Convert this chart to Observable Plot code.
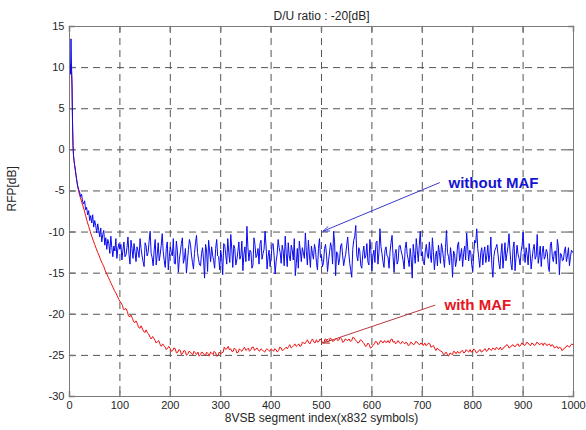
<!DOCTYPE html>
<html>
<head>
<meta charset="utf-8">
<script src="https://cdn.jsdelivr.net/npm/d3@7"></script>
<script src="https://cdn.jsdelivr.net/npm/@observablehq/plot@0.6"></script>
<style>
  html, body { margin: 0; padding: 0; background: #fff; }
</style>
</head>
<body>
<div id="chart"></div>
<script>
// ---- Text ----
const titleText = "D/U ratio : -20[dB]";
const xLabelText = "8VSB segment index(x832 symbols)";
const yLabelText = "RFP[dB]";

// ---- Ticks ----
const xTicks = [0, 100, 200, 300, 400, 500, 600, 700, 800, 900, 1000];
const yTicks = [-30, -25, -20, -15, -10, -5, 0, 5, 10, 15];
const xGrid = [100, 200, 300, 400, 500, 600, 700, 800, 900];
const yGrid = [-25, -20, -15, -10, -5, 0, 5, 10];

// ---- "without MAF" (blue) ----
const blueEarlyX = [0,1,2,3,4,5,6,7,8,9,10,11,12,13,14,15,16,18,20,22,24,26,28,30,32,34,36,38,40,42,44,46,48,50,52,54,56,58,60,62,64,66,68,70,72,74,76,78,80,82,84,86,88,90,92,94,96,98];
const blueEarlyY = [9.0,10.5,9.2,13.5,10.0,8.0,3.5,0.5,-0.7,-1.3,-1.8,-2.2,-2.6,-3.1,-3.5,-3.9,-4.3,
  -4.8,-5.1,-5.7,-5.4,-6.3,-6.6,-6.2,-7.3,-7.0,-7.9,-7.4,-8.6,-8.0,-8.9,-7.9,-9.4,-8.6,-9.2,-10.1,-9.0,-9.8,-10.6,-9.5,-11.2,-10.3,-9.8,-11.6,-10.7,-12.1,-10.9,-11.4,-12.6,-10.5,-11.9,-13.0,-11.7,-12.3,-10.8,-13.2,-12.0,-11.4];
// samples at 100, 104, 108, ... 1000
const blueNoiseStart = 100, blueNoiseStep = 4;
const blueNoiseY = [
  -12.1,-13.4,-11.2,-12.8,-10.6,-13.9,-12.0,-11.4,-13.6,-12.3,
  -10.8,-12.9,-14.2,-11.7,-12.5,-9.9,-13.1,-12.2,-14.0,-11.3,
  -12.7,-10.2,-13.5,-12.0,-14.6,-11.8,-12.9,-13.8,-11.1,-14.9,
  -12.4,-10.7,-13.2,-15.0,-12.1,-11.5,-13.7,-12.6,-10.4,-13.3,
  -14.1,-11.9,-15.6,-12.3,-11.0,-13.6,-12.8,-14.4,-10.9,-13.0,
  -12.2,-15.2,-11.6,-13.9,-12.5,-10.3,-14.3,-12.0,-13.4,-11.2,
  -12.9,-14.7,-11.8,-9.3,-13.5,-12.4,-14.0,-11.5,-12.8,-13.9,
  -11.0,-12.6,-9.9,-14.5,-12.2,-13.1,-11.4,-15.1,-12.7,-11.9,
  -13.8,-12.3,-10.5,-14.2,-12.9,-11.6,-13.4,-15.3,-12.0,-11.1,
  -13.6,-12.5,-10.1,-14.0,-12.8,-11.7,-13.3,-12.1,-14.6,-10.8,
  -12.9,-13.7,-11.5,-14.8,-12.4,-11.9,-9.9,-15.3,-12.6,-13.2,
  -11.4,-14.1,-12.7,-10.6,-13.8,-15.5,-11.0,-9.2,-13.5,-12.3,
  -14.4,-11.7,-12.9,-13.6,-10.9,-14.7,-12.2,-11.3,-13.9,-9.6,
  -12.6,-14.3,-11.8,-13.0,-12.4,-10.4,-14.9,-12.1,-13.5,-11.6,
  -12.8,-14.5,-11.2,-13.3,-12.0,-15.6,-12.7,-10.8,-13.6,-9.9,
  -12.4,-14.0,-11.5,-13.2,-12.9,-10.7,-14.6,-12.3,-11.6,-13.8,
  -12.1,-14.3,-9.8,-13.0,-11.9,-15.5,-12.6,-13.4,-11.2,-12.8,
  -14.2,-11.7,-10.1,-13.5,-12.4,-14.8,-11.0,-9.6,-13.1,-12.5,
  -14.0,-11.8,-12.9,-13.6,-10.6,-15.5,-12.2,-11.5,-13.8,-12.7,
  -14.4,-11.3,-12.6,-10.2,-13.9,-12.0,-14.7,-11.6,-13.2,-12.4,
  -10.0,-13.7,-12.8,-11.4,-14.5,-12.1,-13.3,-10.3,-12.9,-14.2,
  -11.7,-13.0,-12.5,-14.8,-11.2,-13.6,-12.3,-10.9,-15.2,-12.7,
  -13.4,-11.8,-12.9,-14.1,-12.2,-12.6
];
// samples at 102, 106, 110, ... 998
const blueMidStart = 102, blueMidStep = 4;
const blueMidY = [
  -11.5,-12.2,-13.0,-11.9,-12.7,-11.0,-13.2,-12.4,-11.8,-13.1,
  -12.0,-13.6,-11.3,-12.9,-11.1,-12.6,-14.1,-10.9,-12.8,-13.5,
  -11.6,-12.4,-14.3,-11.2,-13.0,-12.5,-10.8,-13.9,-12.2,-13.3,
  -11.4,-13.8,-12.0,-13.6,-10.9,-12.8,-14.5,-11.3,-12.5,-14.0,
  -12.6,-13.4,-11.5,-14.8,-12.3,-11.8,-13.5,-12.0,-12.9,-14.6,
  -13.1,-11.4,-12.8,-10.8,-13.7,-12.1,-11.6,-14.0,-12.4,-13.3,
  -11.1,-12.7,-13.6,-11.9,-12.2,-14.4,-10.7,-13.1,-12.0,-11.4,
  -13.3,-12.1,-11.7,-13.0,-14.2,-11.5,-12.9,-13.6,-10.9,-12.5,
  -11.6,-14.1,-12.6,-11.3,-13.5,-12.2,-10.8,-13.8,-14.4,-12.3,
  -11.9,-13.2,-12.4,-11.0,-14.3,-12.6,-11.5,-13.7,-12.0,-13.1,
  -14.2,-12.0,-12.8,-13.5,-11.3,-13.9,-11.2,-12.4,-14.0,-11.7,
  -12.9,-13.3,-11.6,-12.4,-14.6,-12.1,-10.5,-12.8,-11.9,-14.1,
  -12.6,-13.2,-11.4,-14.0,-12.3,-12.9,-13.7,-11.1,-12.5,-11.8,
  -13.6,-12.2,-12.9,-14.4,-11.3,-13.0,-12.6,-13.9,-11.7,-12.3,
  -13.5,-12.0,-12.7,-14.2,-13.3,-11.5,-13.8,-12.2,-11.6,-12.9,
  -13.6,-12.3,-12.8,-11.2,-13.7,-12.4,-13.0,-14.1,-12.5,-11.4,
  -13.2,-11.9,-12.5,-14.0,-13.1,-12.3,-14.2,-11.6,-13.5,-12.0,
  -12.6,-13.4,-11.8,-12.2,-13.9,-12.7,-11.3,-12.0,-14.3,-11.9,
  -12.5,-13.7,-11.6,-12.8,-14.1,-13.0,-11.9,-12.6,-14.5,-11.4,
  -12.9,-13.5,-11.8,-12.3,-14.6,-11.2,-13.1,-12.7,-14.0,-11.6,
  -12.3,-11.9,-14.0,-12.6,-13.2,-11.5,-12.9,-13.8,-11.7,-12.5,
  -13.3,-12.1,-14.2,-11.6,-13.0,-12.4,-13.9,-11.8,-12.6,-13.5,
  -12.3,-13.6,-11.9,-13.0,-12.4
];

// ---- "with MAF" (red) ----
const redEarlyX = [0,1,2,3,4,5,6,7,8,10,12,14,16,18,20,23,26,29,32,35,38,41,44,47,50,53,56,59,62,65,68,71,74,77,80,83,86,89,92,95,98,101];
const redEarlyY = [9.0,10.2,9.6,10.4,9.8,7.5,3.0,0.5,-0.8,-1.8,-2.7,-3.6,-4.4,-5.0,-5.5,-6.1,-6.7,-7.3,-8.0,-8.7,-9.3,-9.9,-10.5,-11.0,-11.5,-12.0,-12.5,-12.9,-13.4,-13.8,-14.2,-14.7,-15.1,-15.5,-15.9,-16.3,-16.7,-17.1,-17.4,-17.8,-18.2,-18.5];
// samples at 105, 110, ... 1000
const redSmoothStart = 105, redSmoothStep = 5;
const redSmoothY = [
  -18.9,-19.4,-19.7,-20.3,-20.5,-21.0,-21.2,-21.7,-21.8,-22.2,
  -22.3,-22.8,-22.7,-23.2,-23.3,-23.7,-23.6,-24.0,-24.1,-24.2,
  -24.4,-24.2,-24.6,-24.4,-24.7,-24.5,-24.8,-24.6,-24.9,-24.7,
  -24.6,-24.9,-24.7,-25.0,-24.8,-24.6,-24.9,-24.7,-25.0,-24.8,
  -24.6,-24.3,-23.9,-24.2,-24.5,-24.3,-24.6,-24.4,-24.2,-24.4,
  -24.1,-24.3,-24.0,-24.2,-24.4,-24.2,-24.5,-24.3,-24.4,-24.2,
  -24.5,-24.3,-24.4,-24.1,-24.3,-24.0,-23.9,-24.1,-23.8,-23.9,
  -23.6,-23.8,-23.5,-23.3,-23.5,-23.2,-23.4,-23.1,-23.3,-23.2,
  -23.4,-23.1,-23.3,-23.0,-23.2,-22.9,-23.1,-23.0,-23.3,-23.1,
  -23.0,-23.2,-22.9,-23.3,-23.4,-23.2,-23.6,-23.8,-23.7,-24.0,
  -23.6,-23.4,-23.5,-23.3,-23.2,-23.4,-23.5,-23.0,-23.3,-23.4,
  -23.5,-23.3,-23.6,-23.5,-23.7,-23.5,-23.6,-23.4,-23.7,-23.6,
  -23.5,-23.7,-23.6,-23.9,-24.2,-24.1,-24.4,-24.6,-24.8,-24.9,
  -24.7,-24.9,-24.6,-24.5,-24.7,-24.4,-24.6,-24.5,-24.3,-24.5,
  -24.4,-24.6,-24.3,-24.5,-24.2,-24.4,-24.3,-24.1,-24.3,-24.2,
  -24.0,-24.2,-23.9,-23.8,-24.0,-23.7,-23.9,-23.6,-23.8,-23.6,
  -23.7,-23.5,-23.8,-23.6,-23.7,-23.5,-23.6,-23.8,-23.6,-23.7,
  -23.9,-23.8,-24.0,-24.2,-24.1,-24.3,-24.0,-23.9,-23.7,-23.8
];
// samples at 107, 112, ... 997
const redMidStart = 107, redMidStep = 5;
const redMidY = [
  -19.4,-19.3,-20.2,-20.1,-20.9,-20.8,-21.6,-21.4,-22.1,-21.9,
  -22.4,-23.0,-22.9,-23.5,-23.2,-23.9,-23.8,-24.3,-23.9,-24.5,
  -24.1,-24.7,-24.3,-24.9,-24.4,-25.0,-24.5,-24.8,-24.5,-24.9,
  -25.1,-24.6,-24.9,-24.6,-25.1,-24.7,-24.5,-25.1,-24.6,-24.7,
  -24.0,-24.2,-24.3,-24.5,-24.1,-24.7,-24.2,-24.5,-24.0,-24.3,
  -24.5,-24.0,-24.4,-24.1,-24.5,-24.3,-24.6,-24.2,-24.5,-24.3,
  -24.2,-24.6,-24.0,-24.4,-24.2,-24.2,-23.7,-24.0,-23.6,-23.8,
  -23.9,-23.4,-23.6,-23.1,-23.6,-23.0,-23.5,-23.4,-23.0,-23.5,
  -23.0,-23.4,-22.9,-23.3,-23.1,-23.2,-22.8,-23.4,-23.0,-23.2,
  -23.3,-22.8,-23.1,-23.5,-23.1,-23.4,-23.9,-23.5,-24.1,-23.8,
  -23.3,-23.7,-23.2,-23.5,-23.4,-23.2,-23.1,-23.4,-23.6,-23.2,
  -23.6,-23.4,-23.4,-23.8,-23.4,-23.7,-23.3,-23.6,-23.5,-23.8,
  -23.8,-23.5,-24.0,-23.8,-24.4,-24.3,-24.5,-24.9,-24.6,-25.1,
  -24.8,-24.5,-24.8,-24.7,-24.5,-24.7,-24.3,-24.6,-24.6,-24.2,
  -24.7,-24.4,-24.6,-24.3,-24.5,-24.1,-24.4,-24.2,-24.0,-24.3,
  -24.3,-24.0,-23.7,-24.1,-23.8,-23.9,-23.7,-23.9,-23.5,-23.8,
  -23.4,-23.7,-23.5,-23.8,-23.4,-23.7,-23.5,-23.5,-23.8,-23.6,
  -23.7,-24.1,-23.9,-24.0,-24.4,-24.1,-23.8,-24.0,-23.6
];

// ---- Annotations ----
const annLabels = ["without MAF", "with MAF"];
const annColors = ["#1414d2", "#e8141e"];
const arrowColors = ["#3a3ad0", "#b83a3a"];
const annTextX = [752, 744];
const annTextY = [-4.0, -18.9];
const arrowFromX = [734, 725];
const arrowFromY = [-4.0, -18.9];
const arrowToX = [503, 503];
const arrowToY = [-9.9, -23.5];

// ---- build tables ----
const byX = (a, b) => a.x - b.x;
const blue = blueEarlyX.map((x, i) => ({x, y: blueEarlyY[i]}))
  .concat(blueNoiseY.map((y, i) => ({x: blueNoiseStart + blueNoiseStep * i, y})))
  .concat(blueMidY.map((y, i) => ({x: blueMidStart + blueMidStep * i, y})))
  .sort(byX);
const red = redEarlyX.map((x, i) => ({x, y: redEarlyY[i]}))
  .concat(redSmoothY.map((y, i) => ({x: redSmoothStart + redSmoothStep * i, y})))
  .concat(redMidY.map((y, i) => ({x: redMidStart + redMidStep * i, y})))
  .sort(byX);
const ann = annLabels.map((label, i) => ({
  label, color: annColors[i], acolor: arrowColors[i],
  tx: annTextX[i], ty: annTextY[i],
  x1: arrowFromX[i], y1: arrowFromY[i], x2: arrowToX[i], y2: arrowToY[i]
}));

const tickShape = { draw(context, l) { context.moveTo(0, 0); context.lineTo(0, -l); } };
const frameColor = "#7a7a7a";
const gridStyle = {stroke: "#555", strokeOpacity: 1, strokeWidth: 1, strokeDasharray: "7,5"};

const chart = Plot.plot({
  width: 586,
  height: 430,
  marginLeft: 69,
  marginRight: 13,
  marginTop: 26,
  marginBottom: 34,
  style: {fontFamily: "'Liberation Sans', Arial, sans-serif", fontSize: "11px", background: "white", color: "#262626"},
  x: {domain: [0, 1000]},
  y: {domain: [-30, 15]},
  marks: [
    Plot.gridX(xGrid, gridStyle),
    Plot.gridY(yGrid, gridStyle),
    Plot.axisX({ticks: xTicks, tickSize: 0, tickPadding: 5, tickFormat: d => String(d), label: null, fontSize: 11}),
    Plot.axisY({ticks: yTicks, tickSize: 0, tickPadding: 5, tickFormat: d => String(d), label: null, fontSize: 11}),
    Plot.vector(xTicks, {x: d => d, frameAnchor: "bottom", length: 5, anchor: "start", rotate: 0, shape: tickShape, stroke: frameColor}),
    Plot.vector(xTicks, {x: d => d, frameAnchor: "top", length: 5, anchor: "start", rotate: 180, shape: tickShape, stroke: frameColor}),
    Plot.vector(yTicks, {y: d => d, frameAnchor: "left", length: 5, anchor: "start", rotate: 90, shape: tickShape, stroke: frameColor}),
    Plot.vector(yTicks, {y: d => d, frameAnchor: "right", length: 5, anchor: "start", rotate: -90, shape: tickShape, stroke: frameColor}),
    Plot.line(red, {x: "x", y: "y", stroke: "#f01010", strokeWidth: 1}),
    Plot.line(blue, {x: "x", y: "y", stroke: "#0a0af0", strokeWidth: 1}),
    Plot.arrow(ann, {x1: "x1", y1: "y1", x2: "x2", y2: "y2", stroke: "acolor", strokeWidth: 1, headLength: 10, headAngle: 40}),
    Plot.text(ann, {x: "tx", y: "ty", text: "label", fill: "color", textAnchor: "start", fontWeight: "bold", fontSize: 15}),
    Plot.frame({stroke: frameColor}),
    Plot.text([titleText], {frameAnchor: "top", dy: -15, fontSize: 12}),
    Plot.text([xLabelText], {frameAnchor: "bottom", dy: 25, fontSize: 12}),
    Plot.text([yLabelText], {frameAnchor: "left", dx: -57, rotate: -90, fontSize: 12})
  ]
});
document.getElementById("chart").append(chart);
</script>
</body>
</html>
